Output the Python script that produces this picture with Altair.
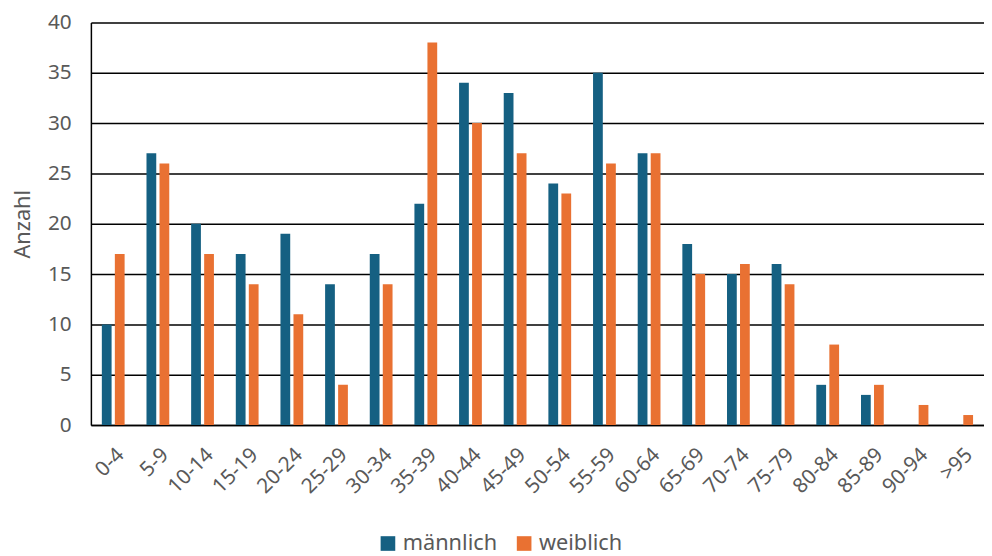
import altair as alt
import pandas as pd

categories = ["0-4", "5-9", "10-14", "15-19", "20-24", "25-29", "30-34", "35-39",
              "40-44", "45-49", "50-54", "55-59", "60-64", "65-69", "70-74", "75-79",
              "80-84", "85-89", "90-94", ">95"]
maennlich = [10, 27, 20, 17, 19, 14, 17, 22, 34, 33, 24, 35, 27, 18, 15, 16, 4, 3, 0, 0]
weiblich = [17, 26, 17, 14, 11, 4, 14, 38, 30, 27, 23, 26, 27, 15, 16, 14, 8, 4, 2, 1]
series = ["männlich", "weiblich"]
colors = ["#156082", "#E97132"]

rows = []
for c, m, w in zip(categories, maennlich, weiblich):
    rows.append({"Alter": c, "Geschlecht": series[0], "Anzahl": m})
    rows.append({"Alter": c, "Geschlecht": series[1], "Anzahl": w})
df = pd.DataFrame(rows)

font = "Noto Sans"
grey = "#595959"

chart = alt.Chart(df).mark_bar().encode(
    x=alt.X("Alter:N", sort=categories, title=None,
            scale=alt.Scale(paddingInner=0.49, paddingOuter=0.245),
            axis=alt.Axis(labelAngle=-45, labelAlign="right", labelBaseline="top",
                          labelPadding=19, labelFontSize=21, labelColor=grey,
                          labelFont=font, ticks=False, domainColor="black",
                          domainWidth=1.5, grid=False)),
    xOffset=alt.XOffset("Geschlecht:N", sort=series,
                        scale=alt.Scale(paddingInner=0.25, paddingOuter=0)),
    y=alt.Y("Anzahl:Q", title="Anzahl",
            scale=alt.Scale(domain=[0, 40], nice=False),
            axis=alt.Axis(values=[0, 5, 10, 15, 20, 25, 30, 35, 40], ticks=False,
                          labelFontSize=21, labelColor=grey, labelFont=font,
                          labelPadding=20, titleFontSize=22, titleColor=grey,
                          titleFont=font, titleFontWeight="normal", titlePadding=13,
                          domainColor="black", domainWidth=1.5,
                          gridColor="black", gridWidth=1.5)),
    color=alt.Color("Geschlecht:N", sort=series,
                    scale=alt.Scale(domain=series, range=colors),
                    legend=alt.Legend(title=None, orient="none", legendX=290,
                                      legendY=517, direction="horizontal",
                                      symbolType="square", symbolSize=220,
                                      symbolStrokeWidth=0,
                                      labelFontSize=22, labelColor=grey,
                                      labelFont=font, columnPadding=16,
                                      labelOffset=4)),
).properties(
    width=905, height=408,
    padding={"left": 84, "top": 11, "right": 0, "bottom": 129},
    autosize=alt.AutoSizeParams(type="none"),
).configure_view(stroke=None)

chart.save("out.html", embed_options={"renderer": "svg", "actions": False})
